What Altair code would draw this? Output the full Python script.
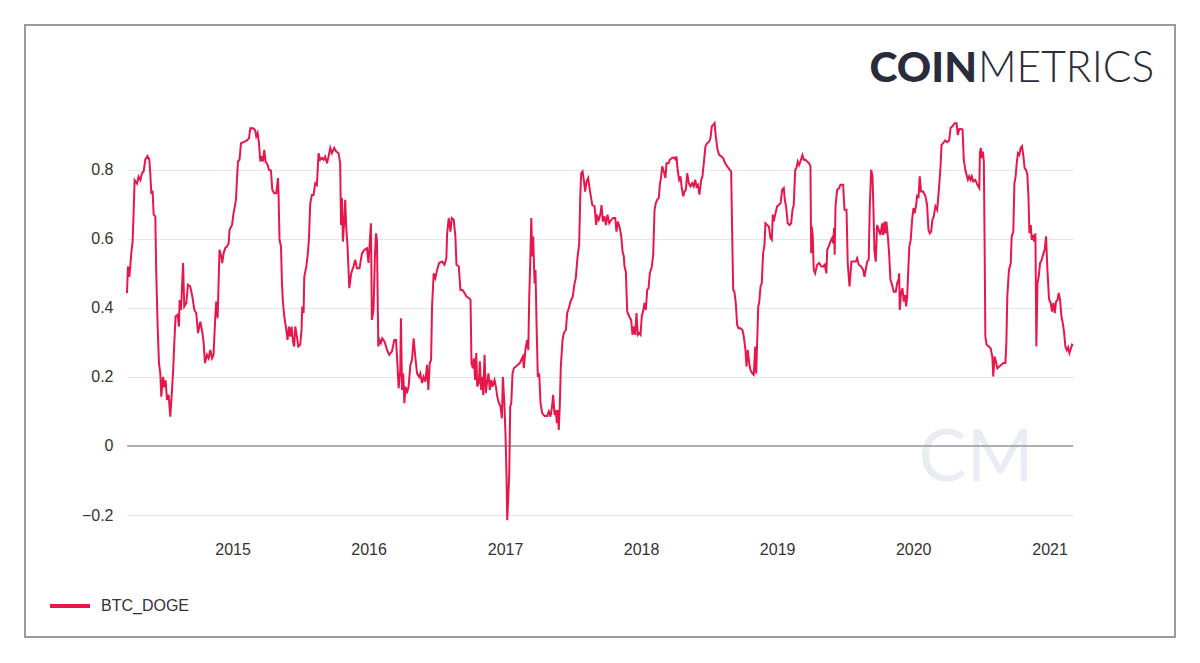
import numpy as np
import pandas as pd
import altair as alt

# Decimal-year positions of the observations and the BTC/DOGE correlation values
year_frac = [
    2014.224, 2014.231, 2014.241, 2014.248, 2014.256, 2014.265, 2014.273, 2014.280, 2014.298, 2014.309,
    2014.322, 2014.334, 2014.346, 2014.359, 2014.375, 2014.388, 2014.395, 2014.403, 2014.412, 2014.420,
    2014.432, 2014.439, 2014.449, 2014.459, 2014.469, 2014.476, 2014.489, 2014.498, 2014.508, 2014.518,
    2014.530, 2014.542, 2014.552, 2014.562, 2014.572, 2014.581, 2014.596, 2014.606, 2014.611, 2014.621,
    2014.636, 2014.645, 2014.660, 2014.672, 2014.689, 2014.704, 2014.719, 2014.733, 2014.746, 2014.763,
    2014.777, 2014.787, 2014.797, 2014.812, 2014.824, 2014.836, 2014.849, 2014.860, 2014.873, 2014.880,
    2014.890, 2014.897, 2014.904, 2014.917, 2014.924, 2014.934, 2014.946, 2014.959, 2014.971, 2014.978,
    2014.996, 2015.007, 2015.025, 2015.032, 2015.040, 2015.051, 2015.062, 2015.081, 2015.106, 2015.121,
    2015.130, 2015.150, 2015.165, 2015.174, 2015.184, 2015.194, 2015.204, 2015.213, 2015.223, 2015.233,
    2015.242, 2015.257, 2015.267, 2015.282, 2015.292, 2015.306, 2015.321, 2015.334, 2015.338, 2015.345,
    2015.356, 2015.363, 2015.370, 2015.380, 2015.395, 2015.404, 2015.414, 2015.424, 2015.434, 2015.444,
    2015.453, 2015.461, 2015.473, 2015.483, 2015.497, 2015.507, 2015.512, 2015.522, 2015.527, 2015.542,
    2015.551, 2015.561, 2015.571, 2015.583, 2015.595, 2015.608, 2015.620, 2015.632, 2015.644, 2015.657,
    2015.669, 2015.681, 2015.694, 2015.705, 2015.718, 2015.730, 2015.747, 2015.762, 2015.779, 2015.791,
    2015.797, 2015.804, 2015.811, 2015.821, 2015.828, 2015.835, 2015.845, 2015.858, 2015.872, 2015.889,
    2015.902, 2015.914, 2015.933, 2015.951, 2015.968, 2015.988, 2015.999, 2016.017, 2016.024, 2016.036,
    2016.046, 2016.054, 2016.061, 2016.071, 2016.080, 2016.090, 2016.100, 2016.117, 2016.135, 2016.151,
    2016.171, 2016.188, 2016.201, 2016.212, 2016.220, 2016.232, 2016.237, 2016.245, 2016.254, 2016.262,
    2016.271, 2016.281, 2016.293, 2016.306, 2016.318, 2016.330, 2016.342, 2016.355, 2016.370, 2016.379,
    2016.392, 2016.403, 2016.416, 2016.428, 2016.438, 2016.448, 2016.458, 2016.465, 2016.477, 2016.489,
    2016.502, 2016.517, 2016.539, 2016.556, 2016.570, 2016.575, 2016.587, 2016.600, 2016.609, 2016.624,
    2016.636, 2016.644, 2016.661, 2016.673, 2016.688, 2016.703, 2016.717, 2016.737, 2016.747, 2016.754,
    2016.764, 2016.771, 2016.781, 2016.789, 2016.796, 2016.808, 2016.815, 2016.825, 2016.833, 2016.840,
    2016.850, 2016.859, 2016.869, 2016.879, 2016.888, 2016.899, 2016.908, 2016.923, 2016.933, 2016.943,
    2016.955, 2016.967, 2016.977, 2016.984, 2016.994, 2017.004, 2017.011, 2017.016, 2017.024, 2017.031,
    2017.038, 2017.046, 2017.055, 2017.065, 2017.080, 2017.094, 2017.109, 2017.119, 2017.131, 2017.138,
    2017.151, 2017.163, 2017.171, 2017.178, 2017.185, 2017.193, 2017.200, 2017.207, 2017.217, 2017.224,
    2017.232, 2017.241, 2017.251, 2017.261, 2017.273, 2017.290, 2017.310, 2017.322, 2017.334, 2017.344,
    2017.354, 2017.364, 2017.373, 2017.381, 2017.388, 2017.395, 2017.403, 2017.410, 2017.423, 2017.432,
    2017.447, 2017.457, 2017.469, 2017.481, 2017.498, 2017.511, 2017.520, 2017.531, 2017.545, 2017.553,
    2017.560, 2017.570, 2017.579, 2017.589, 2017.599, 2017.611, 2017.623, 2017.641, 2017.658, 2017.670,
    2017.678, 2017.689, 2017.702, 2017.709, 2017.719, 2017.731, 2017.741, 2017.753, 2017.766, 2017.781,
    2017.795, 2017.810, 2017.819, 2017.829, 2017.844, 2017.854, 2017.864, 2017.873, 2017.878, 2017.888,
    2017.898, 2017.913, 2017.927, 2017.937, 2017.947, 2017.957, 2017.966, 2017.976, 2017.986, 2017.996,
    2018.005, 2018.016, 2018.025, 2018.035, 2018.045, 2018.055, 2018.064, 2018.079, 2018.089, 2018.099,
    2018.108, 2018.118, 2018.130, 2018.138, 2018.148, 2018.155, 2018.167, 2018.179, 2018.187, 2018.202,
    2018.211, 2018.226, 2018.241, 2018.255, 2018.260, 2018.270, 2018.280, 2018.290, 2018.299, 2018.310,
    2018.319, 2018.329, 2018.339, 2018.351, 2018.363, 2018.376, 2018.387, 2018.398, 2018.407, 2018.417,
    2018.429, 2018.442, 2018.451, 2018.461, 2018.473, 2018.486, 2018.501, 2018.510, 2018.520, 2018.530,
    2018.540, 2018.549, 2018.562, 2018.574, 2018.589, 2018.603, 2018.618, 2018.633, 2018.648, 2018.662,
    2018.670, 2018.677, 2018.686, 2018.696, 2018.706, 2018.716, 2018.731, 2018.745, 2018.755, 2018.767,
    2018.775, 2018.784, 2018.795, 2018.804, 2018.817, 2018.828, 2018.839, 2018.846, 2018.853, 2018.861,
    2018.868, 2018.878, 2018.887, 2018.897, 2018.907, 2018.914, 2018.927, 2018.939, 2018.951, 2018.961,
    2018.968, 2018.975, 2018.988, 2019.000, 2019.012, 2019.025, 2019.037, 2019.049, 2019.056, 2019.066,
    2019.078, 2019.091, 2019.103, 2019.113, 2019.122, 2019.133, 2019.142, 2019.152, 2019.162, 2019.171,
    2019.186, 2019.196, 2019.208, 2019.221, 2019.235, 2019.245, 2019.250, 2019.254, 2019.262, 2019.269,
    2019.279, 2019.294, 2019.309, 2019.324, 2019.338, 2019.350, 2019.362, 2019.368, 2019.379, 2019.392,
    2019.404, 2019.412, 2019.419, 2019.423, 2019.429, 2019.441, 2019.456, 2019.465, 2019.485, 2019.495,
    2019.510, 2019.519, 2019.532, 2019.546, 2019.563, 2019.578, 2019.588, 2019.600, 2019.617, 2019.632,
    2019.642, 2019.651, 2019.662, 2019.673, 2019.681, 2019.691, 2019.701, 2019.708, 2019.715, 2019.725,
    2019.735, 2019.747, 2019.759, 2019.772, 2019.779, 2019.789, 2019.796, 2019.803, 2019.813, 2019.823,
    2019.833, 2019.845, 2019.857, 2019.872, 2019.882, 2019.892, 2019.897, 2019.901, 2019.911, 2019.921,
    2019.931, 2019.941, 2019.948, 2019.956, 2019.965, 2019.972, 2019.982, 2019.992, 2020.002, 2020.011,
    2020.022, 2020.029, 2020.039, 2020.048, 2020.058, 2020.073, 2020.090, 2020.102, 2020.112, 2020.122,
    2020.132, 2020.141, 2020.151, 2020.163, 2020.176, 2020.188, 2020.200, 2020.208, 2020.220, 2020.235,
    2020.249, 2020.264, 2020.274, 2020.288, 2020.303, 2020.318, 2020.327, 2020.338, 2020.352, 2020.362,
    2020.371, 2020.382, 2020.391, 2020.401, 2020.411, 2020.421, 2020.430, 2020.440, 2020.455, 2020.470,
    2020.485, 2020.489, 2020.496, 2020.504, 2020.511, 2020.518, 2020.524, 2020.529, 2020.538, 2020.555,
    2020.568, 2020.580, 2020.587, 2020.597, 2020.607, 2020.617, 2020.631, 2020.646, 2020.661, 2020.676,
    2020.683, 2020.690, 2020.702, 2020.715, 2020.722, 2020.734, 2020.742, 2020.751, 2020.759, 2020.768,
    2020.778, 2020.788, 2020.798, 2020.808, 2020.817, 2020.827, 2020.837, 2020.845, 2020.852, 2020.862,
    2020.869, 2020.878, 2020.886, 2020.896, 2020.903, 2020.911, 2020.920, 2020.930, 2020.942, 2020.955,
    2020.964, 2020.974, 2020.984, 2020.996, 2021.008, 2021.018, 2021.028, 2021.038, 2021.047, 2021.058,
    2021.067, 2021.077, 2021.087, 2021.097, 2021.106, 2021.116, 2021.126, 2021.136, 2021.146, 2021.155,
    2021.165, 2021.172,
]

btc_doge = [
    0.443, 0.52, 0.49, 0.52, 0.56, 0.59, 0.68, 0.77, 0.76, 0.78,
    0.77, 0.79, 0.795, 0.83, 0.84, 0.83, 0.79, 0.73, 0.74, 0.67,
    0.665, 0.50, 0.35, 0.24, 0.21, 0.143, 0.20, 0.17, 0.19, 0.133,
    0.148, 0.085, 0.143, 0.21, 0.30, 0.375, 0.38, 0.346, 0.423, 0.394,
    0.53, 0.404, 0.414, 0.467, 0.462, 0.433, 0.394, 0.385, 0.327, 0.36,
    0.331, 0.30, 0.24, 0.264, 0.254, 0.278, 0.254, 0.264, 0.375, 0.418,
    0.37, 0.47, 0.568, 0.549, 0.53, 0.558, 0.573, 0.578, 0.587, 0.626,
    0.64, 0.674, 0.713, 0.771, 0.824, 0.829, 0.877, 0.88, 0.885, 0.892,
    0.92, 0.92, 0.916, 0.897, 0.907, 0.877, 0.824, 0.839, 0.824, 0.858,
    0.824, 0.815, 0.80, 0.798, 0.742, 0.732, 0.732, 0.776, 0.727, 0.597,
    0.578, 0.471, 0.418, 0.375, 0.336, 0.307, 0.346, 0.317, 0.346, 0.302,
    0.288, 0.346, 0.317, 0.288, 0.293, 0.336, 0.404, 0.385, 0.49, 0.52,
    0.549, 0.597, 0.703, 0.727, 0.727, 0.761, 0.756, 0.848, 0.829, 0.834,
    0.829, 0.838, 0.819, 0.838, 0.863, 0.848, 0.863, 0.853, 0.848, 0.819,
    0.64, 0.718, 0.592, 0.655, 0.713, 0.636, 0.578, 0.457, 0.50, 0.52,
    0.539, 0.515, 0.515, 0.558, 0.568, 0.573, 0.53, 0.645, 0.365, 0.394,
    0.549, 0.616, 0.597, 0.288, 0.307, 0.298, 0.312, 0.302, 0.278, 0.264,
    0.274, 0.307, 0.307, 0.23, 0.167, 0.22, 0.37, 0.162, 0.21, 0.124,
    0.172, 0.153, 0.172, 0.235, 0.249, 0.312, 0.259, 0.21, 0.20, 0.21,
    0.182, 0.20, 0.186, 0.235, 0.162, 0.24, 0.249, 0.404, 0.50, 0.486,
    0.51, 0.53, 0.534, 0.525, 0.544, 0.612, 0.66, 0.621, 0.66, 0.655,
    0.607, 0.525, 0.52, 0.452, 0.452, 0.443, 0.433, 0.428, 0.423, 0.24,
    0.225, 0.254, 0.191, 0.269, 0.172, 0.182, 0.245, 0.162, 0.20, 0.148,
    0.264, 0.153, 0.186, 0.21, 0.162, 0.191, 0.172, 0.191, 0.172, 0.143,
    0.124, 0.114, 0.08, 0.20, 0.133, 0.027, -0.089, -0.215, -0.147, -0.079,
    0.114, 0.124, 0.21, 0.225, 0.23, 0.235, 0.24, 0.249, 0.259, 0.225,
    0.283, 0.307, 0.278, 0.433, 0.53, 0.66, 0.549, 0.607, 0.471, 0.51,
    0.346, 0.20, 0.21, 0.124, 0.095, 0.087, 0.087, 0.10, 0.085, 0.109,
    0.148, 0.09, 0.104, 0.066, 0.104, 0.046, 0.124, 0.23, 0.307, 0.327,
    0.336, 0.385, 0.399, 0.418, 0.433, 0.471, 0.486, 0.539, 0.587, 0.723,
    0.79, 0.795, 0.771, 0.737, 0.766, 0.776, 0.742, 0.698, 0.694, 0.64,
    0.665, 0.655, 0.674, 0.698, 0.65, 0.665, 0.64, 0.67, 0.645, 0.655,
    0.66, 0.66, 0.621, 0.65, 0.631, 0.607, 0.563, 0.549, 0.52, 0.505,
    0.389, 0.375, 0.365, 0.322, 0.346, 0.322, 0.385, 0.322, 0.327, 0.322,
    0.375, 0.394, 0.414, 0.394, 0.452, 0.457, 0.50, 0.52, 0.554, 0.684,
    0.703, 0.713, 0.718, 0.757, 0.781, 0.81, 0.795, 0.776, 0.819, 0.819,
    0.829, 0.834, 0.836, 0.829, 0.839, 0.795, 0.771, 0.781, 0.747, 0.723,
    0.737, 0.742, 0.79, 0.761, 0.752, 0.761, 0.752, 0.771, 0.752, 0.757,
    0.728, 0.771, 0.781, 0.819, 0.868, 0.877, 0.882, 0.892, 0.926, 0.93,
    0.935, 0.897, 0.858, 0.843, 0.839, 0.834, 0.819, 0.81, 0.802, 0.795,
    0.607, 0.452, 0.447, 0.414, 0.351, 0.341, 0.341, 0.336, 0.317, 0.278,
    0.23, 0.278, 0.24, 0.22, 0.21, 0.206, 0.288, 0.21, 0.298, 0.404,
    0.414, 0.462, 0.471, 0.558, 0.583, 0.645, 0.64, 0.636, 0.602, 0.597,
    0.67, 0.65, 0.674, 0.694, 0.698, 0.703, 0.742, 0.747, 0.713, 0.694,
    0.645, 0.64, 0.645, 0.684, 0.698, 0.80, 0.805, 0.824, 0.814, 0.824,
    0.843, 0.829, 0.829, 0.824, 0.819, 0.81, 0.558, 0.636, 0.607, 0.51,
    0.50, 0.525, 0.53, 0.52, 0.52, 0.525, 0.50, 0.568, 0.578, 0.592,
    0.602, 0.587, 0.631, 0.554, 0.694, 0.742, 0.747, 0.757, 0.757, 0.684,
    0.684, 0.529, 0.462, 0.534, 0.534, 0.534, 0.544, 0.525, 0.52, 0.51,
    0.49, 0.51, 0.534, 0.539, 0.694, 0.80, 0.781, 0.684, 0.568, 0.534,
    0.64, 0.626, 0.611, 0.645, 0.611, 0.65, 0.616, 0.65, 0.611, 0.558,
    0.481, 0.467, 0.447, 0.447, 0.471, 0.481, 0.50, 0.394, 0.443, 0.457,
    0.418, 0.437, 0.404, 0.433, 0.52, 0.578, 0.597, 0.655, 0.689, 0.674,
    0.698, 0.728, 0.718, 0.781, 0.737, 0.737, 0.723, 0.698, 0.626, 0.616,
    0.621, 0.655, 0.665, 0.694, 0.684, 0.742, 0.805, 0.872, 0.877, 0.885,
    0.88, 0.885, 0.921, 0.926, 0.935, 0.935, 0.901, 0.918, 0.918, 0.916,
    0.829, 0.80, 0.786, 0.771, 0.781, 0.771, 0.781, 0.766, 0.771, 0.757,
    0.747, 0.848, 0.863, 0.834, 0.853, 0.824, 0.568, 0.317, 0.293, 0.288,
    0.283, 0.259, 0.201, 0.259, 0.244, 0.225, 0.23, 0.235, 0.24, 0.24,
    0.298, 0.433, 0.51, 0.529, 0.607, 0.621, 0.761, 0.781, 0.819, 0.848,
    0.843, 0.863, 0.868, 0.839, 0.805, 0.80, 0.786, 0.723, 0.617, 0.64,
    0.597, 0.611, 0.592, 0.616, 0.288, 0.471, 0.49, 0.529, 0.539, 0.558,
    0.568, 0.607, 0.51, 0.425, 0.414, 0.389, 0.414, 0.385, 0.418, 0.423,
    0.443, 0.423, 0.375, 0.356, 0.331, 0.288, 0.278, 0.286, 0.269, 0.28,
    0.293, 0.29,
]

series_name = "BTC_DOGE"
year_ticks = [2015, 2016, 2017, 2018, 2019, 2020, 2021]
y_ticks = [-0.2, 0, 0.2, 0.4, 0.6, 0.8]

LINE_COLOR = "#e8174b"
TEXT_COLOR = "#333333"
FONT = "Liberation Sans"


def to_date(y):
    yr = int(np.floor(y))
    start = pd.Timestamp(yr, 1, 1)
    end = pd.Timestamp(yr + 1, 1, 1)
    return start + (end - start) * (y - yr)


df = pd.DataFrame({
    "date": [to_date(v) for v in year_frac],
    "value": btc_doge,
    "series": series_name,
})

one = pd.DataFrame({"k": [0]})

x_enc = alt.X(
    "date:T",
    title=None,
    scale=alt.Scale(nice=False),
    axis=alt.Axis(
        values=[alt.DateTime(year=y, month=1, date=1) for y in year_ticks],
        format="%Y",
        grid=False,
        domain=False,
        ticks=False,
        tickSize=0,
        labelPadding=26,
        labelFontSize=16,
        labelColor=TEXT_COLOR,
        labelFont=FONT,
    ),
)
y_enc = alt.Y(
    "value:Q",
    title=None,
    scale=alt.Scale(domain=[-0.2, 0.95], nice=False, zero=False),
    axis=alt.Axis(
        values=y_ticks,
        format=".1~f",
        grid=True,
        gridColor="#e6e6e6",
        gridWidth=1,
        domain=False,
        ticks=False,
        tickSize=0,
        labelPadding=14,
        labelFontSize=16,
        labelColor=TEXT_COLOR,
        labelFont=FONT,
    ),
)

frame = alt.Chart(one).mark_rect(
    fillOpacity=0, stroke="#9b9b9f", strokeWidth=2
).encode(
    x=alt.value(-102), x2=alt.value(1048), y=alt.value(-93), y2=alt.value(519)
)

LOGO_COLOR = "#2a2c3b"
logo_coin = alt.Chart(one).mark_text(
    text="COIN", font="Lato", fontWeight=900, fontSize=42.5,
    color=LOGO_COLOR, align="right", baseline="alphabetic"
).encode(x=alt.value(850), y=alt.value(-36.5))

logo_metrics = alt.Chart(one).mark_text(
    text="METRICS", font="Lato", fontWeight=300, fontSize=42.5,
    color=LOGO_COLOR, align="left", baseline="alphabetic"
).encode(x=alt.value(851), y=alt.value(-36.5))

watermark = alt.Chart(one).mark_text(
    text="CM", font="Lato", fontWeight=400, fontSize=72,
    color="#e9ecf3", align="center", baseline="alphabetic"
).encode(x=alt.value(849), y=alt.value(363))

zero_rule = alt.Chart(pd.DataFrame({"value": [0.0]})).mark_rule(
    color="#6f6f78", strokeWidth=1
).encode(y=alt.Y("value:Q"))

line = alt.Chart(df).mark_line(strokeWidth=2).encode(
    x=x_enc,
    y=y_enc,
    color=alt.Color(
        "series:N",
        scale=alt.Scale(domain=[series_name], range=[LINE_COLOR]),
        legend=alt.Legend(
            title=None,
            orient="none",
            legendX=-79,
            legendY=466,
            symbolType="stroke",
            symbolStrokeWidth=4,
            symbolSize=1600,
            labelFontSize=16,
            labelColor=TEXT_COLOR,
            labelFont=FONT,
            labelOffset=9,
            padding=0,
        ),
    ),
)

chart = alt.layer(frame, watermark, logo_coin, logo_metrics, zero_rule, line).properties(
    width=946,
    height=397,
    padding={"left": 119, "top": 110, "right": 119, "bottom": 136},
    autosize=alt.AutoSizeParams(type="none"),
    background="white",
).configure_view(stroke=None)

chart.save("out.html", embed_options={"renderer": "svg", "actions": False})
